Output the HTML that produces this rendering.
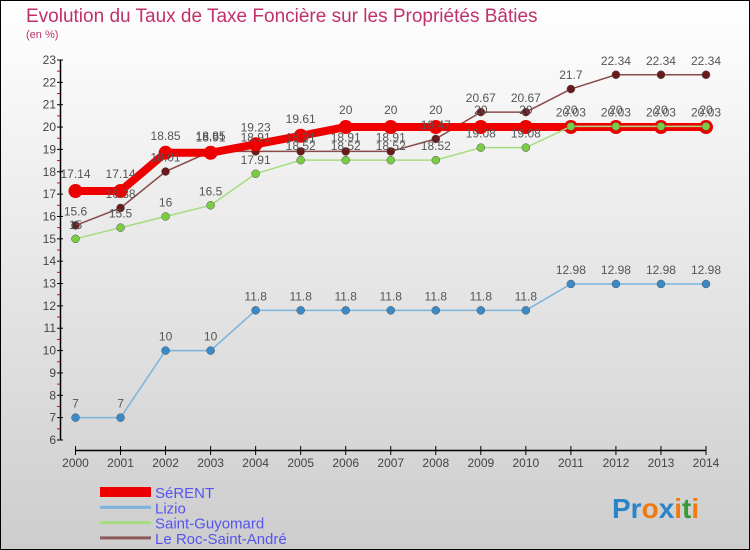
<!DOCTYPE html>
<html><head><meta charset="utf-8">
<style>
body{margin:0;padding:0}
#wrap{width:750px;height:550px;position:relative;overflow:hidden;font-family:"Liberation Sans",sans-serif}
svg text{font-family:"Liberation Sans",sans-serif}
</style></head>
<body>
<div id="wrap">
<svg id="chart" width="750" height="550" xmlns="http://www.w3.org/2000/svg">
<defs>
<linearGradient id="bg" x1="0" y1="0" x2="0" y2="1">
<stop offset="0" stop-color="#ffffff"/><stop offset="1" stop-color="#cdcdcd"/>
</linearGradient>
</defs>
<rect x="0.5" y="0.5" width="749" height="549" fill="url(#bg)" stroke="#000"/>
<text x="26" y="22" font-size="19" fill="#c0306a">Evolution du Taux de Taxe Foncière sur les Propriétés Bâties</text>
<text x="26" y="38" font-size="11" fill="#c0306a">(en %)</text>
<g id="axes"></g>
<g id="series"></g>
<g id="labels"></g>
<g id="legend"></g>
<text x="612" y="518" font-size="28" font-weight="bold"><tspan fill="#2a84c8">Pr</tspan><tspan fill="#f07a10">o</tspan><tspan fill="#2a84c8">x</tspan><tspan fill="#f07a10">i</tspan><tspan fill="#3a9a3a">t</tspan><tspan fill="#f07a10">i</tspan></text>
</svg>
</div>
<script>
const years = [2000,2001,2002,2003,2004,2005,2006,2007,2008,2009,2010,2011,2012,2013,2014];
const serent = [17.14,17.14,18.85,18.85,19.23,19.61,20,20,20,20,20,20,20,20,20];
const lizio = [7,7,10,10,11.8,11.8,11.8,11.8,11.8,11.8,11.8,12.98,12.98,12.98,12.98];
const saintGuyomard = [15,15.5,16,16.5,17.91,18.52,18.52,18.52,18.52,19.08,19.08,20.03,20.03,20.03,20.03];
const rocSaintAndre = [15.6,16.38,18.01,18.91,18.91,18.91,18.91,18.91,19.47,20.67,20.67,21.7,22.34,22.34,22.34];
const yTicks = [6,7,8,9,10,11,12,13,14,15,16,17,18,19,20,21,22,23];
const seriesNames = ["SéRENT","Lizio","Saint-Guyomard","Le Roc-Saint-André"];

const NS="http://www.w3.org/2000/svg";
const x0=75.5, x1=706, yBase=440, yTop=60, vMin=6, vMax=23;
function xs(i){return x0+(x1-x0)*i/(years.length-1);}
function ys(v){return yBase-(v-vMin)*(yBase-yTop)/(vMax-vMin);}
function mk(tag,attrs,parent){const e=document.createElementNS(NS,tag);for(const k in attrs)e.setAttribute(k,attrs[k]);parent.appendChild(e);return e;}
const axes=document.getElementById('axes'), ser=document.getElementById('series'), lab=document.getElementById('labels'), leg=document.getElementById('legend');

let ya=mk('line',{x1:60.5,y1:yTop,x2:60.5,y2:yBase,stroke:'#000','stroke-width':1.5},axes);


let xa=mk('line',{x1:x0,y1:450.5,x2:x1,y2:450.5,stroke:'#000','stroke-width':1.5},axes);


yTicks.forEach(v=>{
  const y=ys(v);
  mk('line',{x1:57,y1:y,x2:63,y2:y,stroke:'#000'},axes);
  const t=mk('text',{x:56,y:y+4,'font-size':12,'text-anchor':'end',fill:'#444'},axes);
  t.textContent=v;
  
  
  if(v<vMax) mk('line',{x1:57,y1:ys(v+0.5),x2:60,y2:ys(v+0.5),stroke:'#e00'},axes);
});
years.forEach((yr,i)=>{
  const x=xs(i);
  mk('line',{x1:x,y1:446,x2:x,y2:455,stroke:'#000'},axes);
  const t=mk('text',{x:x,y:467,'font-size':12,'text-anchor':'middle',fill:'#444'},axes);
  t.textContent=yr;
  
  
});

const defs=[
 {data:lizio,color:'#7ab3dd',dot:'#3a8ac8',w:1.5,r:4,name:'series-lizio'},
 {data:rocSaintAndre,color:'#8a4a4a',dot:'#6a1a1a',w:1.5,r:4,name:'series-le-roc-saint-andre'},
 {data:serent,color:'#ee0000',dot:'#ee0000',w:8,r:7,name:'series-serent'},
 {data:saintGuyomard,color:'#a6dc80',dot:'#7acc44',w:1.5,r:4,name:'series-saint-guyomard'}
];
defs.forEach(d=>{
  const pts=d.data.map((v,i)=>xs(i)+','+ys(v)).join(' ');
  const pl=mk('polyline',{points:pts,fill:'none',stroke:d.color,'stroke-width':d.w},ser);
  
  
  d.data.forEach((v,i)=>{
    const c=mk('circle',{cx:xs(i),cy:ys(v),r:d.r,fill:d.dot,stroke:d.w>2?'#d00':'#555','stroke-width':d.w>2?0:0.5},ser);
    
    
    const t=mk('text',{x:xs(i),y:ys(v)-(d.r+6),'font-size':12,'text-anchor':'middle',fill:'#555'},lab);
    t.textContent=String(v);
    
    
  });
});

const legColors=['#ee0000','#7ab3dd','#a6dc80','#8a5a5a'];
const legW=[10,3,3,3];
seriesNames.forEach((n,i)=>{
  const y=492+i*15.3;
  const r=mk('rect',{x:100,y:y-legW[i]/2,width:51,height:legW[i],fill:legColors[i]},leg);
  
  
  const t=mk('text',{x:155,y:y+6,'font-size':15,fill:'#5555ee'},leg);
  t.textContent=n;
  
  
});
</script>
</body></html>
